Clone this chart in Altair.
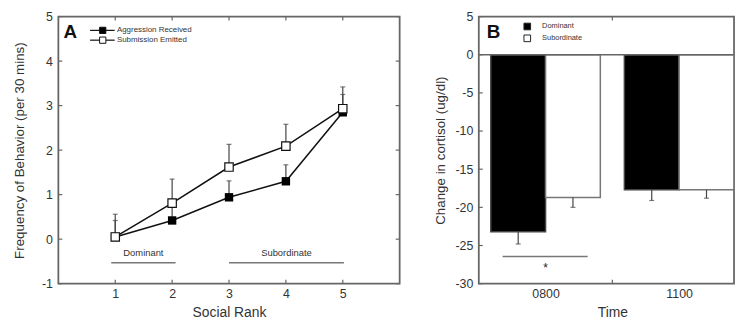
import altair as alt
import pandas as pd

# ---------------- data: panel A ----------------
ranks = [1, 2, 3, 4, 5]
agg_mean = [0.05, 0.42, 0.94, 1.30, 2.85]
agg_upper = [0.42, 0.75, 1.31, 1.67, 3.25]
sub_mean = [0.05, 0.81, 1.62, 2.09, 2.93]
sub_upper = [0.56, 1.35, 2.13, 2.58, 3.42]
series_names = ["Aggression Received", "Submission Emitted"]
yticks_A = [-1, 0, 1, 2, 3, 4, 5]

group_labels_A = ["Dominant", "Subordinate"]
group_from_A = [0.93, 3.0]
group_to_A = [2.06, 5.02]

# ---------------- data: panel B ----------------
times = ["0800", "1100"]
dom_mean = [-23.2, -17.7]
dom_err = [-24.8, -19.1]
subd_mean = [-18.7, -17.7]
subd_err = [-20.0, -18.8]
bar_names = ["Dominant", "Subordinate"]
yticks_B = [5, 0, -5, -10, -15, -20, -25, -30]

# ---------------- layout constants ----------------
WA, HA = 345, 270
WB, HB = 258, 270
STEP_B = 135.0            # px per time group
XMAX_B = WB / STEP_B
BAR_W = 0.41              # bar width in group units
TXT = "#333333"
FRAME = "#666666"
TK = 4

# ---------------- panel A ----------------
rows = []
for i, r in enumerate(ranks):
    rows.append(dict(rank=r, series=series_names[0], mean=agg_mean[i], upper=agg_upper[i]))
    rows.append(dict(rank=r, series=series_names[1], mean=sub_mean[i], upper=sub_upper[i]))
dfA = pd.DataFrame(rows)

sxA = alt.Scale(domain=[0, 6], nice=False, zero=False)
syA = alt.Scale(domain=[-1, 5], nice=False, zero=False)
axXA = alt.Axis(values=ranks, title="Social Rank", domain=False, ticks=False, grid=False,
                labelPadding=4, titlePadding=6, labelFontSize=12.5, titleFontSize=14,
                titleFontWeight="normal", labelColor=TXT, titleColor=TXT)
axYA = alt.Axis(values=yticks_A, title="Frequency of Behavior (per 30 mins)", domain=False,
                ticks=False, grid=False, labelPadding=6, titlePadding=6, labelFontSize=12.5,
                titleFontSize=13.5, titleFontWeight="normal", labelColor=TXT, titleColor=TXT,
                labelExpr="datum.value + ''", minExtent=26, maxExtent=26)


def xA(f):
    return alt.X(f, type="quantitative", scale=sxA, axis=axXA)


def yA(f):
    return alt.Y(f, type="quantitative", scale=syA, axis=axYA)


baseA = alt.Chart(dfA)
err_rule_A = baseA.mark_rule(color="#444", strokeWidth=1.2).encode(x=xA("rank"), y=yA("mean"), y2="upper")
err_cap_A = baseA.mark_tick(color="#444", thickness=1.2, size=5, orient="horizontal").encode(x=xA("rank"), y=yA("upper"))
lines_A = baseA.mark_line(color="#111", strokeWidth=1.5).encode(x=xA("rank"), y=yA("mean"), detail="series:N")
pts_agg = alt.Chart(dfA[dfA.series == series_names[0]]).mark_point(
    shape="square", filled=True, color="#000", size=72, opacity=1).encode(x=xA("rank"), y=yA("mean"))
pts_sub = alt.Chart(dfA[dfA.series == series_names[1]]).mark_point(
    shape="square", filled=True, fill="white", stroke="#111", strokeWidth=1.2, size=72, opacity=1
).encode(x=xA("rank"), y=yA("mean"))

# group annotation lines
dfG = pd.DataFrame(dict(label=group_labels_A, x0=group_from_A, x1=group_to_A))
dfG["xm"] = (dfG.x0 + dfG.x1) / 2
dfG["yl"] = -0.53
dfG["yt"] = -0.32
grp_lines = alt.Chart(dfG).mark_rule(color="#777", strokeWidth=1.5).encode(x=xA("x0"), x2="x1", y=yA("yl"))
grp_text = alt.Chart(dfG).mark_text(fontSize=9.5, color=TXT).encode(x=xA("xm"), y=yA("yt"), text="label")

# legend A
dfLA = pd.DataFrame(dict(label=series_names, y=[4.69, 4.47], x0=[0.557] * 2, x1=[0.99] * 2,
                         xs=[0.78] * 2, xt=[1.03] * 2, filled=["black", "white"]))
leg_lines = alt.Chart(dfLA).mark_rule(color="#111", strokeWidth=1.2).encode(x=xA("x0"), x2="x1", y=yA("y"))
leg_pts = alt.Chart(dfLA).mark_point(shape="square", filled=True, stroke="#111", strokeWidth=1,
                                     size=40, opacity=1).encode(
    x=xA("xs"), y=yA("y"), fill=alt.Fill("filled:N", scale=None))
leg_txt = alt.Chart(dfLA).mark_text(align="left", fontSize=8, color=TXT).encode(x=xA("xt"), y=yA("y"), text="label")
letterA = alt.Chart(pd.DataFrame(dict(t=["A"], x=[0.21], y=[4.66]))).mark_text(
    fontSize=19, fontWeight="bold", color="#111").encode(x=xA("x"), y=yA("y"), text="t")

# inward ticks A
dfYT = pd.DataFrame(dict(v=yticks_A))
dfXT = pd.DataFrame(dict(v=ranks))
tk = dict(color=FRAME, strokeWidth=1.2)
tickA = [
    alt.Chart(dfYT).mark_rule(**tk).encode(y=yA("v"), x=alt.value(0), x2=alt.value(TK)),
    alt.Chart(dfYT).mark_rule(**tk).encode(y=yA("v"), x=alt.value(WA - TK), x2=alt.value(WA)),
    alt.Chart(dfXT).mark_rule(**tk).encode(x=xA("v"), y=alt.value(HA), y2=alt.value(HA - TK)),
    alt.Chart(dfXT).mark_rule(**tk).encode(x=xA("v"), y=alt.value(0), y2=alt.value(TK)),
]

panelA = alt.layer(*tickA, grp_lines, grp_text, err_rule_A, err_cap_A, lines_A, pts_agg, pts_sub,
                   leg_lines, leg_pts, leg_txt, letterA).properties(width=WA, height=HA)

# ---------------- panel B ----------------
centers = [i + 0.5 for i in range(len(times))]
rowsB = []
for i, c in enumerate(centers):
    rowsB.append(dict(name=bar_names[0], x0=c - BAR_W, x1=c, xm=c - BAR_W / 2, mean=dom_mean[i], err=dom_err[i],
                      fill="black", stroke="#444"))
    rowsB.append(dict(name=bar_names[1], x0=c, x1=c + BAR_W, xm=c + BAR_W / 2, mean=subd_mean[i], err=subd_err[i],
                      fill="white", stroke="#777"))
dfB = pd.DataFrame(rowsB)

sxB = alt.Scale(domain=[0, XMAX_B], nice=False, zero=False)
syB = alt.Scale(domain=[-30, 5], nice=False, zero=False)
label_expr_B = " : ".join(
    [f"datum.value == {c} ? '{t}'" for c, t in zip(centers, times)] + ["''"])
axXB = alt.Axis(values=centers, title="Time", domain=False, ticks=False, grid=False,
                labelPadding=4, titlePadding=6, labelFontSize=12.5, titleFontSize=14,
                titleFontWeight="normal", labelColor=TXT, titleColor=TXT,
                labelExpr=label_expr_B, titleX=STEP_B)
axYB = alt.Axis(values=yticks_B, title="Change in cortisol (ug/dl)", domain=False, ticks=False,
                grid=False, labelPadding=6, titlePadding=6, labelFontSize=12.5, titleFontSize=13.5,
                titleFontWeight="normal", labelColor=TXT, titleColor=TXT,
                labelExpr="datum.value + ''", minExtent=26, maxExtent=26)


def xB(f):
    return alt.X(f, type="quantitative", scale=sxB, axis=axXB)


def yB(f):
    return alt.Y(f, type="quantitative", scale=syB, axis=axYB)


baseB = alt.Chart(dfB)
bars = baseB.mark_rect(strokeWidth=1.5).encode(
    x=xB("x0"), x2="x1", y=yB("mean"), y2=alt.datum(0),
    fill=alt.Fill("fill:N", scale=None), stroke=alt.Stroke("stroke:N", scale=None))
err_rule_B = baseB.mark_rule(color="#444", strokeWidth=1.2).encode(x=xB("xm"), y=yB("mean"), y2="err")
err_cap_B = baseB.mark_tick(color="#444", thickness=1.2, size=5, orient="horizontal").encode(x=xB("xm"), y=yB("err"))
zero_line = alt.Chart(pd.DataFrame(dict(v=[0]))).mark_rule(color=FRAME, strokeWidth=1.5).encode(
    y=yB("v"), x=alt.value(0), x2=alt.value(WB))

# significance marker
dfS = pd.DataFrame(dict(x0=[centers[0] - 0.322], x1=[centers[0] + 0.315], y=[-26.45], xm=[centers[0]],
                        ys=[-28.0], t=["*"]))
sig_line = alt.Chart(dfS).mark_rule(color="#777", strokeWidth=1.5).encode(x=xB("x0"), x2="x1", y=yB("y"))
sig_txt = alt.Chart(dfS).mark_text(fontSize=12, color="#222").encode(x=xB("xm"), y=yB("ys"), text="t")

# legend B
dfLB = pd.DataFrame(dict(label=bar_names, y=[3.7, 2.15], xs=[0.363] * 2, xt=[0.474] * 2,
                         fill=["black", "white"]))
legB_pts = alt.Chart(dfLB).mark_point(shape="square", filled=True, stroke="#222", strokeWidth=1,
                                      size=45, opacity=1).encode(
    x=xB("xs"), y=yB("y"), fill=alt.Fill("fill:N", scale=None))
legB_txt = alt.Chart(dfLB).mark_text(align="left", fontSize=7.5, color=TXT).encode(x=xB("xt"), y=yB("y"), text="label")
letterB = alt.Chart(pd.DataFrame(dict(t=["B"], x=[0.11], y=[2.93]))).mark_text(
    fontSize=19, fontWeight="bold", color="#111").encode(x=xB("x"), y=yB("y"), text="t")

dfYTB = pd.DataFrame(dict(v=yticks_B))
dfXTB = pd.DataFrame(dict(v=[1.0]))
tickB = [
    alt.Chart(dfYTB).mark_rule(**tk).encode(y=yB("v"), x=alt.value(0), x2=alt.value(TK)),
    alt.Chart(dfXTB).mark_rule(**tk).encode(x=xB("v"), y=alt.value(HB), y2=alt.value(HB - TK)),
    alt.Chart(dfXTB).mark_rule(**tk).encode(x=xB("v"), y=alt.value(0), y2=alt.value(TK)),
]

panelB = alt.layer(bars, zero_line, *tickB, err_rule_B, err_cap_B, sig_line, sig_txt,
                   legB_pts, legB_txt, letterB).properties(width=WB, height=HB)

chart = alt.hconcat(panelA, panelB, spacing=31).properties(
    padding={"left": 12, "top": 8, "right": 0, "bottom": 0},
    background="white",
).configure(font="Liberation Sans").configure_view(stroke=FRAME, strokeWidth=1.8)

chart.save("out.html", embed_options={"renderer": "svg", "actions": False})
